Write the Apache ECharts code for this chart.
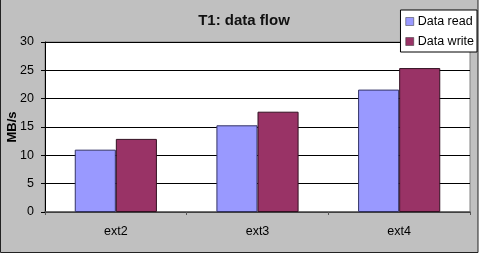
<!DOCTYPE html>
<html><head><meta charset="utf-8">
<script src="https://cdn.jsdelivr.net/npm/echarts@6/dist/echarts.min.js"></script>
<style>html,body{margin:0;padding:0;background:#fff}#c{width:483px;height:260px}</style>
</head><body><div id="c"></div>
<script>
var categories = ['ext2', 'ext3', 'ext4'];
var dataRead = [11.0, 15.3, 21.6];
var dataWrite = [12.9, 17.7, 25.4];
var yTicks = [0, 5, 10, 15, 20, 25, 30];

var chart = echarts.init(document.getElementById('c'));
var font = 'Liberation Sans, Arial, sans-serif';
chart.setOption({
  animation: false,
  backgroundColor: '#fff',
  graphic: [{
    type: 'rect', z: -10, silent: true,
    shape: {x: 0.5, y: -2, width: 477.5, height: 254.5},
    style: {fill: '#c0c0c0', stroke: '#222', lineWidth: 1}
  }],
  title: {
    text: 'T1: data flow', left: 239, top: 8, textAlign: 'center',
    textStyle: {fontFamily: font, fontSize: 15, fontWeight: 'bold', color: '#111'}
  },
  legend: {
    orient: 'vertical', right: 6, top: 10,
    backgroundColor: '#fff', borderColor: '#000', borderWidth: 1,
    padding: [5, 3, 4, 5], itemGap: 7, itemWidth: 8, itemHeight: 8,
    icon: 'rect',
    textStyle: {fontFamily: font, fontSize: 12.5, color: '#000', padding: [0, 0, 0, -1]},
    data: [{name: 'Data read', itemStyle: {borderColor: '#333', borderWidth: 0.5}},
           {name: 'Data write', itemStyle: {borderColor: '#333', borderWidth: 0.5}}]
  },
  grid: {left: 45, right: 13, top: 42, bottom: 48, containLabel: false, outerBoundsMode: 'none',
    show: true, backgroundColor: '#fff', borderColor: '#808080', borderWidth: 1},
  xAxis: {
    type: 'category', data: categories,
    axisLine: {lineStyle: {color: '#555', width: 1.5}},
    axisTick: {show: true, length: 3, lineStyle: {color: '#555'}},
    axisLabel: {fontFamily: font, fontSize: 12.5, color: '#000', margin: 13}
  },
  yAxis: {
    type: 'value', min: 0, max: 30, interval: 5,
    name: 'MB/s', nameLocation: 'middle', nameGap: 26, nameRotate: 90, nameMoveOverlap: false,
    nameTextStyle: {fontFamily: font, fontSize: 13, fontWeight: 'bold', color: '#000'},
    axisLine: {show: true, lineStyle: {color: '#000'}},
    axisTick: {show: true, length: 4, lineStyle: {color: '#000'}},
    axisLabel: {fontFamily: font, fontSize: 12.5, color: '#000', margin: 11,
      formatter: function (v) { return yTicks.indexOf(v) >= 0 ? String(v) : ''; }},
    splitLine: {lineStyle: {color: '#000', width: 1}}
  },
  series: [
    {name: 'Data read', type: 'bar', data: dataRead, barGap: '0%', barCategoryGap: '42%',
     itemStyle: {color: '#9999ff', borderColor: '#333366', borderWidth: 1}},
    {name: 'Data write', type: 'bar', data: dataWrite,
     itemStyle: {color: '#993366', borderColor: '#331122', borderWidth: 1}}
  ]
});
</script></body></html>
